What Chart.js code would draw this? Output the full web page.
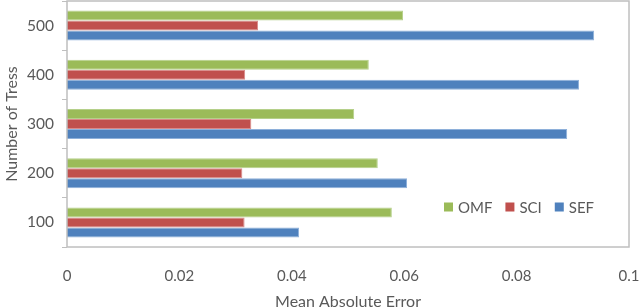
<!DOCTYPE html>
<html>
<head>
<meta charset="utf-8">
<script src="https://cdn.jsdelivr.net/npm/chart.js@4"></script>
<style>
  html, body { margin: 0; padding: 0; overflow: hidden; background: #fff; }
  #maeChart { display: block; }
</style>
</head>
<body>
<canvas id="maeChart" width="640" height="316"></canvas>
<script>
let trees = ["500", "400", "300", "200", "100"],
  omf = [0.0598, 0.0537, 0.0511, 0.0553, 0.0578],
  sci = [0.034, 0.0317, 0.0328, 0.0312, 0.0316],
  sef = [0.0938, 0.0911, 0.089, 0.0605, 0.0413],
  xTicks = [0, 0.02, 0.04, 0.06, 0.08, 0.1];

let textColor = "#595959",
  lineColor = "#bfbfbf",
  fontFamily = "Lato, 'Open Sans', sans-serif";

// Excel-like box around the plot area
let plotBorder = {
  id: "plotBorder",
  afterDraw: (chart) => {
    let a = chart.chartArea, ctx = chart.ctx;
    ctx.save();
    ctx.strokeStyle = lineColor;
    ctx.lineWidth = 1.5;
    ctx.strokeRect(a.left, a.top, a.right - a.left, a.bottom - a.top);
    ctx.restore();
  },
};

// legend drawn inside the plot, lower right
let innerLegend = {
  id: "innerLegend",
  afterDraw: (chart) => {
    let ctx = chart.ctx, x = 444, y = 207;
    ctx.save();
    ctx.font = "15px " + fontFamily;
    ctx.textBaseline = "middle";
    chart.data.datasets.forEach((ds) => {
      ctx.fillStyle = ds.backgroundColor;
      ctx.fillRect(x, y - 4.5, 9, 9);
      ctx.fillStyle = textColor;
      ctx.fillText(ds.label, x + 14, y + 1);
      x += 14 + ctx.measureText(ds.label).width + 13;
    });
    ctx.restore();
  },
};

new Chart(document.getElementById("maeChart"), {
  type: "bar",
  data: {
    labels: trees,
    datasets: [
      { label: "OMF", data: omf, backgroundColor: "#9bbb59", borderColor: "#b5d08a" },
      { label: "SCI", data: sci, backgroundColor: "#c0504d", borderColor: "#d98a88" },
      { label: "SEF", data: sef, backgroundColor: "#4f81bd", borderColor: "#8eb0da" },
    ],
  },
  options: {
    indexAxis: "y",
    responsive: false,
    animation: false,
    datasets: {
      bar: { categoryPercentage: 0.61, barPercentage: 1.0, borderWidth: 1 },
    },
    layout: { padding: { top: 1, right: 11, left: 0, bottom: 0 } },
    plugins: { legend: { display: false }, tooltip: { enabled: false } },
    scales: {
      x: {
        min: 0,
        max: 0.1,
        afterBuildTicks: (axis) => {
          axis.ticks = xTicks.map((v) => ({ value: v }));
        },
        afterFit: (axis) => {
          axis.height = 69;
          axis.paddingLeft = 0;
          axis.paddingRight = 0;
        },
        grid: { display: false },
        border: { display: false },
        ticks: {
          color: textColor,
          font: { family: fontFamily, size: 15 },
          padding: 12,
          maxRotation: 0,
          callback: (v) => String(+v.toFixed(2)),
        },
        title: {
          display: true,
          text: "Mean Absolute Error",
          color: textColor,
          font: { family: fontFamily, size: 16 },
          padding: { top: 4, bottom: 5 },
        },
      },
      y: {
        afterFit: (axis) => {
          axis.width = 67;
          axis.paddingTop = 0;
          axis.paddingBottom = 0;
        },
        grid: {
          offset: true,
          drawOnChartArea: false,
          drawTicks: true,
          tickLength: 5,
          color: lineColor,
        },
        border: { display: false },
        ticks: {
          color: textColor,
          font: { family: fontFamily, size: 15.5 },
          padding: 8,
        },
        title: {
          display: true,
          text: "Number of Tress",
          color: textColor,
          font: { family: fontFamily, size: 16 },
          padding: { top: 2, bottom: 0 },
        },
      },
    },
  },
  plugins: [plotBorder, innerLegend],
});
</script>
</body>
</html>
